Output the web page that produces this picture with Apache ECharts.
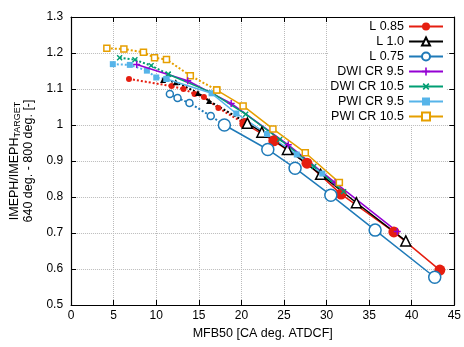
<!DOCTYPE html>
<html><head><meta charset="utf-8">
<script src="https://cdn.jsdelivr.net/npm/echarts@6/dist/echarts.min.js"></script>
<style>html,body{margin:0;padding:0;background:#fff}#c{width:464px;height:347px}</style>
</head><body><div id="c"></div>
<script>
// ---- data ----
const xTicks = [0,5,10,15,20,25,30,35,40,45];
const yTicks = [0.5,0.6,0.7,0.8,0.9,1,1.1,1.2,1.3];
const names = ['L 0.85','L 1.0','L 0.75','DWI CR 9.5','DWI CR 10.5','PWI CR 9.5','PWI CR 10.5'];

const l085DotX = [6.8, 11.8, 13.2, 14.5, 15.6, 17.3, 20.4];
const l085DotY = [1.128, 1.108, 1.100, 1.086, 1.078, 1.047, 1.004];
const l085X = [20.4, 23.8, 27.7, 31.7, 37.9, 43.3];
const l085Y = [1.004, 0.956, 0.894, 0.808, 0.703, 0.597];

const l10DotX = [10.8, 12.3, 14.9, 16.2, 20.7];
const l10DotY = [1.125, 1.119, 1.089, 1.067, 1.005];
const l10X = [20.7, 22.4, 25.4, 29.3, 33.5, 39.3];
const l10Y = [1.005, 0.980, 0.932, 0.863, 0.784, 0.678];

const l075DotX = [11.6, 12.5, 13.9, 16.4, 18.0];
const l075DotY = [1.086, 1.075, 1.061, 1.025, 1.000];
const l075X = [18.0, 23.1, 26.3, 30.5, 35.7, 42.7];
const l075Y = [1.000, 0.932, 0.880, 0.805, 0.708, 0.577];

const dwi95X = [7.7, 13.7, 18.8, 25.5, 31.0, 38.3];
const dwi95Y = [1.168, 1.123, 1.060, 0.945, 0.840, 0.704];

const dwi105DotX = [5.7, 7.5, 9.4, 11.4];
const dwi105DotY = [1.187, 1.181, 1.165, 1.141];
const dwi105X = [11.4, 16.5, 20.5, 24.5, 28.5, 32.0];
const dwi105Y = [1.141, 1.090, 1.030, 0.960, 0.885, 0.815];

const pwi95DotX = [4.9, 6.9, 8.9, 10.0, 11.2];
const pwi95DotY = [1.169, 1.167, 1.151, 1.132, 1.128];
const pwi95X = [11.2, 16.5, 19.4, 23.0, 26.5, 29.5];
const pwi95Y = [1.128, 1.088, 1.032, 0.975, 0.918, 0.865];

const pwi105DotX = [4.2, 6.2, 8.5, 9.8, 11.2, 14.0, 17.1];
const pwi105DotY = [1.213, 1.211, 1.202, 1.187, 1.182, 1.137, 1.097];
const pwi105X = [17.1, 20.2, 23.7, 27.5, 31.5];
const pwi105Y = [1.097, 1.053, 0.989, 0.923, 0.840];

// ---- styles ----
const C = {red:'#e51e10', black:'#000000', blue:'#1f7ab8', purple:'#9400d3', green:'#009e73', sky:'#56b4e9', orange:'#e69f00'};
const PLUS = 'path://M4,0h2v4h4v2h-4v4h-2v-4h-4v-2h4z';
const zip = (xs, ys) => xs.map((x, i) => [x, ys[i]]);

function solid(name, xs, ys, color, symbol, size, fill, extra) {
  return Object.assign({
    name, type:'line', data: zip(xs, ys), symbol, symbolSize: size, showAllSymbol: true,
    lineStyle:{color, width:1.5, type:'solid'},
    itemStyle:{color: fill, borderColor: color, borderWidth: fill === '#fff' ? 1.5 : 0},
    emphasis:{disabled:true}, animation:false, z: 3
  }, extra || {});
}
function dotted(name, xs, ys, color, symbol, size, fill, extra) {
  return Object.assign({
    name, type:'line', data: zip(xs, ys), symbol, symbolSize: size, showAllSymbol: true,
    lineStyle:{color, width:2, type:'dotted'},
    itemStyle:{color: fill, borderColor: color, borderWidth: fill === '#fff' ? 1.5 : 0},
    emphasis:{disabled:true}, animation:false, z: 2
  }, extra || {});
}

const series = [
  dotted('d1', l085DotX, l085DotY, C.red, 'circle', 6, C.red),
  dotted('d2', l10DotX, l10DotY, C.black, 'triangle', 6, C.black),
  dotted('d3', l075DotX, l075DotY, C.blue, 'circle', 7, '#fff'),
  dotted('d5', dwi105DotX, dwi105DotY, C.green, PLUS, 7, C.green, {symbolRotate:45}),
  dotted('d6', pwi95DotX, pwi95DotY, C.sky, 'rect', 6, C.sky),
  dotted('d7', pwi105DotX, pwi105DotY, C.orange, 'rect', 6, '#fff'),
  solid(names[0], l085X, l085Y, C.red, 'circle', 11, C.red),
  solid(names[1], l10X, l10Y, C.black, 'triangle', 10, '#fff'),
  solid(names[2], l075X, l075Y, C.blue, 'circle', 12, '#fff'),
  solid(names[3], dwi95X, dwi95Y, C.purple, PLUS, 7, C.purple),
  solid(names[4], dwi105X, dwi105Y, C.green, PLUS, 7, C.green, {symbolRotate:45}),
  solid(names[5], pwi95X, pwi95Y, C.sky, 'rect', 6, C.sky),
  solid(names[6], pwi105X, pwi105Y, C.orange, 'rect', 6, '#fff')
];

const FONT = 'Liberation Sans';
const axisCommon = {
  axisLine:{show:true, onZero:false, lineStyle:{color:'#000', width:1.2}},
  axisTick:{show:true, inside:true, length:5, lineStyle:{color:'#000'}}
};

const chart = echarts.init(document.getElementById('c'), null, {renderer:'canvas'});
chart.setOption({
  animation:false,
  backgroundColor:'#fff',
  grid:{left:66, right:6, top:17, bottom:42, containLabel:false},
  legend:{
    data: names, orient:'vertical', right:18, top:18, align:'right',
    itemWidth:34, itemHeight:10, itemGap:2, padding:[2,2,2,2],
    backgroundColor:'#fff', selectedMode:false,
    textStyle:{fontFamily:FONT, fontSize:12.5, color:'#000', lineHeight:11}
  },
  xAxis:[
    Object.assign({type:'value', min:0, max:45, interval:5, position:'bottom',
      name:'MFB50 [CA deg. ATDCF]', nameLocation:'middle', nameGap:20,
      nameTextStyle:{fontFamily:FONT, fontSize:12.5, color:'#000'},
      axisLabel:{fontFamily:FONT, fontSize:12, color:'#000', margin:5},
      splitLine:{show:true, lineStyle:{color:'#bbb', type:'dotted', width:1}}}, axisCommon),
    Object.assign({type:'value', min:0, max:45, interval:5, position:'top',
      axisLabel:{show:false}, splitLine:{show:false}}, axisCommon)
  ],
  yAxis:[
    Object.assign({type:'value', min:0.5, max:1.3, interval:0.1, position:'left',
      name:'{a|IMEPH/IMEPH}{s|TARGET}\n{a|640 deg. - 800 deg. [-]}', nameLocation:'middle', nameGap:32, nameRotate:90,
      nameTextStyle:{fontFamily:FONT, color:'#000', rich:{
        a:{fontFamily:FONT, fontSize:12.5, color:'#000', lineHeight:14},
        s:{fontFamily:FONT, fontSize:9, color:'#000', lineHeight:14, verticalAlign:'bottom', padding:[5,0,0,0]}
      }},
      axisLabel:{fontFamily:FONT, fontSize:12, color:'#000', margin:8},
      splitLine:{show:true, lineStyle:{color:'#bbb', type:'dotted', width:1}}}, axisCommon),
    Object.assign({type:'value', min:0.5, max:1.3, interval:0.1, position:'right',
      axisLabel:{show:false}, splitLine:{show:false}}, axisCommon)
  ],
  series
});
</script></body></html>
